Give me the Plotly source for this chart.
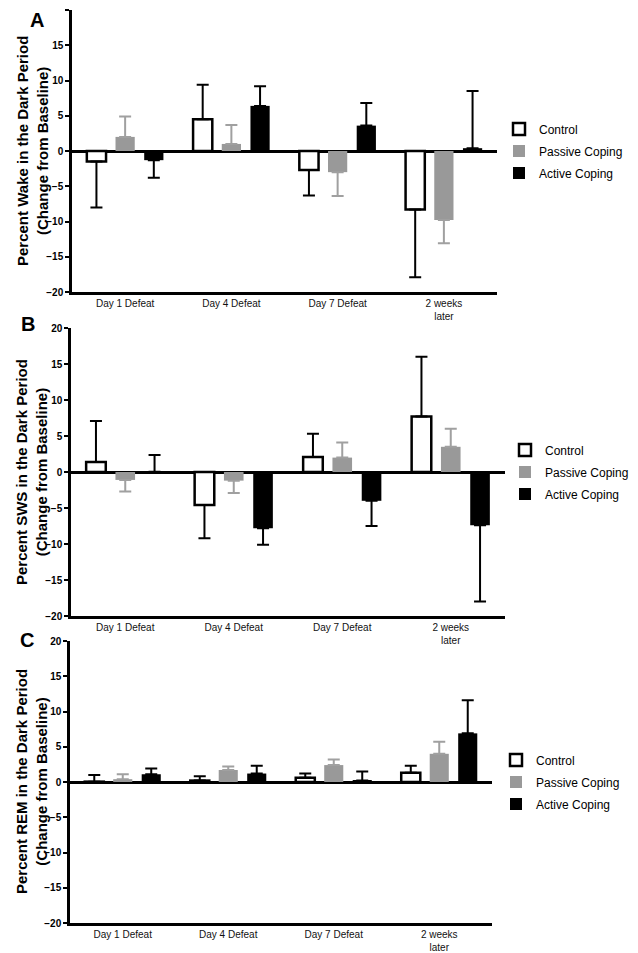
import plotly.graph_objects as go

categories = ["Day 1 Defeat", "Day 4 Defeat", "Day 7 Defeat", "2 weeks<br>later"]
groups = ["Control", "Passive Coping", "Active Coping"]

# Panel A: Wake
wake_control = [-1.5, 4.5, -2.7, -8.3]
wake_control_sem = [6.5, 4.9, 3.6, 9.6]
wake_passive = [2.0, 1.0, -3.0, -9.8]
wake_passive_sem = [2.9, 2.7, 3.4, 3.3]
wake_active = [-1.3, 6.4, 3.6, 0.4]
wake_active_sem = [2.5, 2.8, 3.2, 8.1]

# Panel B: SWS
sws_control = [1.4, -4.6, 2.1, 7.7]
sws_control_sem = [5.7, 4.6, 3.2, 8.3]
sws_passive = [-1.1, -1.2, 2.0, 3.5]
sws_passive_sem = [1.6, 1.7, 2.1, 2.5]
sws_active = [0.05, -7.8, -4.0, -7.4]
sws_active_sem = [2.3, 2.3, 3.5, 10.6]

# Panel C: REM
rem_control = [0.05, 0.2, 0.6, 1.3]
rem_control_sem = [0.95, 0.6, 0.6, 1.0]
rem_passive = [0.4, 1.7, 2.4, 4.0]
rem_passive_sem = [0.7, 0.5, 0.8, 1.7]
rem_active = [1.1, 1.2, 0.2, 6.9]
rem_active_sem = [0.8, 1.1, 1.3, 4.7]

y_ticks = [-20, -15, -10, -5, 0, 5, 10, 15, 20]
panel_letters = ["A", "B", "C"]
y_titles = [
    "Percent Wake in the Dark Period<br>(Change from Baseline)",
    "Percent SWS in the Dark Period<br>(Change from Baseline)",
    "Percent REM in the Dark Period<br>(Change from Baseline)",
]

# page body has an 8px margin; figure sized to fit the 638x953 window
OFF = 8
W, H = 638 - OFF, 953 - OFF
FONT = "Arial, Liberation Sans, sans-serif"


def px_x(v):
    return (v - OFF) / W


def px_y(v):
    return 1 - (v - OFF) / H


# plot area boxes in window pixels (left, right, top, bottom)
boxes = [(72, 497, 10, 292), (71, 505, 328, 616), (70, 492, 641, 923)]
legend_left = [499, 505, 496]
# (x, y, yanchor) of panel letters
letter_pos = [(37, OFF, "top"), (28, 324, "middle"), (27, 640, "middle")]
title_x = [33, 31, 31]

styles = [
    dict(fill="white", line="black", lw=2.5, ecolor="black"),
    dict(fill="#999999", line="#999999", lw=0, ecolor="#a0a0a0"),
    dict(fill="black", line="black", lw=0, ecolor="black"),
]

panels = [
    [(wake_control, wake_control_sem), (wake_passive, wake_passive_sem), (wake_active, wake_active_sem)],
    [(sws_control, sws_control_sem), (sws_passive, sws_passive_sem), (sws_active, sws_active_sem)],
    [(rem_control, rem_control_sem), (rem_passive, rem_passive_sem), (rem_active, rem_active_sem)],
]

fig = go.Figure()
annotations = []
layout_axes = {}

for p, series in enumerate(panels):
    sfx = "" if p == 0 else str(p + 1)
    xref, yref = "x" + sfx, "y" + sfx
    leg = "legend" + sfx
    for g, (vals, sem) in enumerate(series):
        st = styles[g]
        plus = [s if v >= 0 else 0 for v, s in zip(vals, sem)]
        minus = [s if v < 0 else 0 for v, s in zip(vals, sem)]
        fig.add_trace(go.Bar(
            x=categories, y=vals, name=groups[g],
            xaxis=xref, yaxis=yref, legend=leg,
            legendgroup=f"p{p}g{g}",
            marker=dict(color=st["fill"], line=dict(color=st["line"], width=st["lw"])),
            error_y=dict(type="data", symmetric=False, array=plus, arrayminus=minus,
                         color=st["ecolor"], thickness=2, width=6),
        ))
    l, r, t, b = boxes[p]
    layout_axes["xaxis" + sfx] = dict(
        domain=[px_x(l), px_x(r)], anchor=yref, showline=True, linecolor="black", linewidth=2.5,
        ticks="", showgrid=False, tickfont=dict(family=FONT, size=10, color="#111"),
        range=[-0.5, 3.5],
    )
    layout_axes["yaxis" + sfx] = dict(
        domain=[px_y(b), px_y(t)], anchor=xref, range=[-20, 20], tickvals=y_ticks,
        showline=True, linecolor="black", linewidth=2.5,
        ticks="outside", ticklen=4, tickwidth=2, tickcolor="black",
        showgrid=False, zeroline=True, zerolinecolor="black", zerolinewidth=2.5,
        tickfont=dict(family=FONT, size=10, color="black", weight="bold"),
    )
    y0 = px_y((t + b) / 2)
    layout_axes[leg] = dict(
        x=px_x(legend_left[p]), xanchor="left", y=y0, yanchor="middle",
        font=dict(family=FONT, size=12, color="black"), bgcolor="rgba(0,0,0,0)",
        traceorder="grouped", tracegroupgap=3,
    )
    annotations.append(dict(
        text=y_titles[p], xref="paper", yref="paper",
        x=px_x(title_x[p]), y=y0, xanchor="center", yanchor="middle",
        textangle=-90, showarrow=False,
        font=dict(family=FONT, size=15, color="black", weight="bold"),
    ))
    lx, ly, lanchor = letter_pos[p]
    annotations.append(dict(
        text=panel_letters[p], xref="paper", yref="paper",
        x=px_x(lx), y=px_y(ly), xanchor="center", yanchor=lanchor, borderpad=0,
        showarrow=False, font=dict(family=FONT, size=20, color="black", weight="bold"),
    ))

fig.update_layout(
    width=W, height=H, margin=dict(l=0, r=0, t=0, b=0, autoexpand=False),
    paper_bgcolor="white", plot_bgcolor="white",
    barmode="group", bargap=0.19, bargroupgap=0.33,
    annotations=annotations, **layout_axes,
)

fig.write_html("out.html")
